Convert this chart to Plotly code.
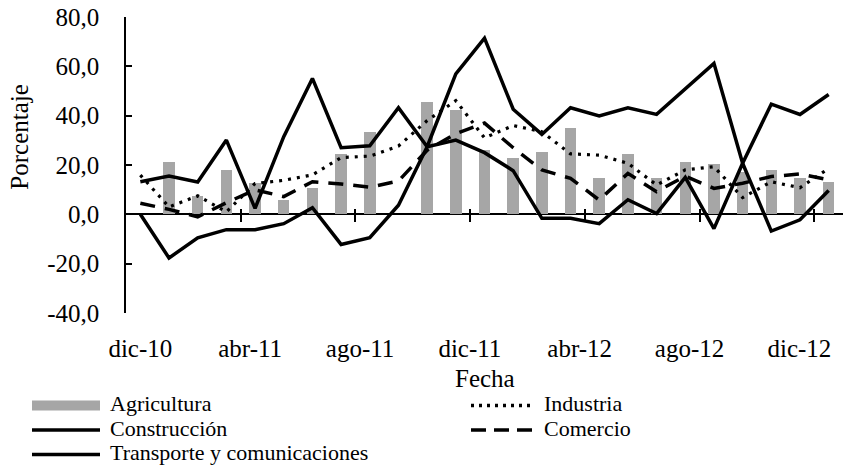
import plotly.graph_objects as go

# ---------------- data ----------------
fechas = ["dic-10", "ene-11", "feb-11", "mar-11", "abr-11", "may-11", "jun-11",
          "jul-11", "ago-11", "sep-11", "oct-11", "nov-11", "dic-11", "ene-12",
          "feb-12", "mar-12", "abr-12", "may-12", "jun-12", "jul-12", "ago-12",
          "sep-12", "oct-12", "nov-12", "dic-12"]
agricultura = [0.0, 21.1, 7.4, 18.0, 12.6, 5.8, 10.5, 24.5, 33.2, 0.0, 45.4, 42.3,
               26.1, 22.8, 25.3, 35.0, 14.7, 24.5, 14.7, 21.2, 20.4, 17.0, 18.0, 14.7, 13.1]
industria = [15.9, 3.0, 7.5, 1.0, 12.5, 13.8, 16.0, 23.0, 23.6, 27.7, 38.0, 46.1,
             31.0, 36.0, 33.5, 24.5, 24.0, 20.7, 11.9, 18.0, 19.3, 6.8, 13.2, 10.8, 18.6]
construccion = [13.2, 15.5, 13.1, 30.1, 2.4, 31.5, 55.1, 27.0, 27.8, 43.2, 27.4, 56.9,
                71.4, 42.6, 32.4, 43.2, 39.9, 43.2, 40.5, 50.9, 61.2, 20.7, 44.7, 40.5, 48.6]
comercio = [4.5, 2.0, -1.0, 4.7, 9.9, 7.2, 13.2, 12.3, 11.0, 13.5, 26.0, 32.7,
            37.0, 27.0, 18.0, 14.6, 5.8, 16.6, 9.2, 15.5, 10.5, 12.6, 15.3, 16.4, 14.0]
transporte = [0.0, -17.7, -9.5, -6.2, -6.2, -3.8, 2.7, -12.2, -9.5, 3.7, 27.4, 30.1,
              25.0, 17.7, -1.6, -1.6, -3.8, 5.9, 0.3, 15.0, -5.8, 20.7, -6.8, -2.2, 9.7]

x_tick_labels = ["dic-10", "abr-11", "ago-11", "dic-11", "abr-12", "ago-12", "dic-12"]
y_tick_values = [-40, -20, 0, 20, 40, 60, 80]
y_tick_labels = ["-40,0", "-20,0", "0,0", "20,0", "40,0", "60,0", "80,0"]

# ---------------- geometry ----------------
W, H = 866, 468
ML, MR, MT = 126, 23, 17
MB = H - 312.6
PW, PH = W - ML - MR, H - MT - MB
YMIN, YMAX = -40, 80
FONT = "Liberation Serif, Times New Roman, serif"
FS = 25
LFS = 22


def px_x(px):
    """window pixel x -> paper fraction"""
    return (px - ML) / PW


def px_y(py):
    """window pixel y -> paper fraction"""
    return (H - MB - py) / PH


n = len(fechas)
idx = list(range(n))

fig = go.Figure()
fig.add_trace(go.Bar(x=idx, y=agricultura, name="Agricultura",
                     marker=dict(color="#A6A6A6", line=dict(width=0)),
                     width=0.4, showlegend=False))
fig.add_trace(go.Scatter(x=idx, y=industria, name="Industria", mode="lines",
                         line=dict(color="black", width=3.2, dash="3px,6px"),
                         showlegend=False))
fig.add_trace(go.Scatter(x=idx, y=construccion, name="Construcción", mode="lines",
                         line=dict(color="black", width=3.5), showlegend=False))
fig.add_trace(go.Scatter(x=idx, y=comercio, name="Comercio", mode="lines",
                         line=dict(color="black", width=3.5, dash="15px,10px"),
                         showlegend=False))
fig.add_trace(go.Scatter(x=idx, y=transporte, name="Transporte y comunicaciones",
                         mode="lines", line=dict(color="black", width=3.5),
                         showlegend=False))
# helper trace for the crossing tick-mark axis
fig.add_trace(go.Scatter(x=[None], y=[None], xaxis="x2", yaxis="y",
                         showlegend=False, hoverinfo="skip"))

label_step = 3.83
label_pos = [k * label_step for k in range(len(x_tick_labels))]
boundary_ticks = [k + 3.5 for k in range(0, n - 1, 4)][:6]

zero_frac = (0 - YMIN) / (YMAX - YMIN)

fig.update_layout(
    template="none",
    width=W, height=H,
    margin=dict(l=ML, r=MR, t=MT, b=MB, autoexpand=False),
    paper_bgcolor="white", plot_bgcolor="white",
    font=dict(family=FONT, size=FS, color="black"),
    bargap=0,
    showlegend=False,
    xaxis=dict(range=[-0.5, n - 0.5], showline=False, showgrid=False,
               zeroline=False, ticks="", tickmode="array", automargin=False,
               tickvals=label_pos, ticktext=x_tick_labels,
               ticklabeloverflow="allow",
               tickfont=dict(family=FONT, size=FS), ticklabelstandoff=18),
    xaxis2=dict(overlaying="x", anchor="free", automargin=False,
                position=zero_frac + 6.5 / PH, side="bottom",
                range=[-0.5, n - 0.5], showline=False, showgrid=False,
                zeroline=False, ticks="outside", ticklen=13, tickwidth=1.5,
                tickcolor="black", tickmode="array", tickvals=boundary_ticks,
                showticklabels=False),
    yaxis=dict(range=[YMIN, YMAX], showline=True, linecolor="black", linewidth=1.5,
               showgrid=False, zeroline=True, zerolinecolor="black",
               zerolinewidth=2, ticks="inside", ticklen=6, tickwidth=1.5,
               automargin=False, ticklabeloverflow="allow",
               tickcolor="black", tickmode="array", tickvals=y_tick_values,
               ticktext=y_tick_labels, tickfont=dict(family=FONT, size=FS),
               ticklabelstandoff=20),
)

annotations = [
    dict(text="Porcentaje", x=px_x(19.5), y=px_y(137), xref="paper", yref="paper",
         textangle=-90, showarrow=False, xanchor="center", yanchor="middle",
         borderpad=0, font=dict(family=FONT, size=FS)),
    dict(text="Fecha", x=px_x(485), y=px_y(378), xref="paper", yref="paper",
         showarrow=False, xanchor="center", yanchor="middle",
         font=dict(family=FONT, size=FS)),
]

# ---------------- custom legend ----------------
legend_items = [
    ("Agricultura", "bar", 32, 100, 405, 109),
    ("Industria", "dot", 471, 533, 405, 543),
    ("Construcción", "solid", 32, 100, 429.5, 109),
    ("Comercio", "dash", 471, 533, 429.5, 543),
    ("Transporte y comunicaciones", "solid", 32, 100, 454, 109),
]
shapes = []
for name, kind, x0, x1, yc, xt in legend_items:
    if kind == "bar":
        shapes.append(dict(type="rect", xref="paper", yref="paper",
                           x0=px_x(x0), x1=px_x(x1), y0=px_y(yc - 5), y1=px_y(yc + 5),
                           fillcolor="#A6A6A6", line=dict(width=0)))
    else:
        dash = {"solid": "solid", "dot": "3px,5px", "dash": "15px,8px"}[kind]
        shapes.append(dict(type="line", xref="paper", yref="paper",
                           x0=px_x(x0), x1=px_x(x1), y0=px_y(yc), y1=px_y(yc),
                           line=dict(color="black", width=3.5, dash=dash)))
    annotations.append(dict(text=name, x=px_x(xt), y=px_y(yc - 2), xref="paper",
                            yref="paper", showarrow=False, xanchor="left",
                            yanchor="middle", borderpad=0,
                            font=dict(family=FONT, size=LFS)))

fig.update_layout(annotations=annotations, shapes=shapes)

# remove the browser's default 8px body margin so the figure fills the window
fig.write_html("out.html", config={"displayModeBar": False},
               post_script="document.body.style.margin='0px';")
